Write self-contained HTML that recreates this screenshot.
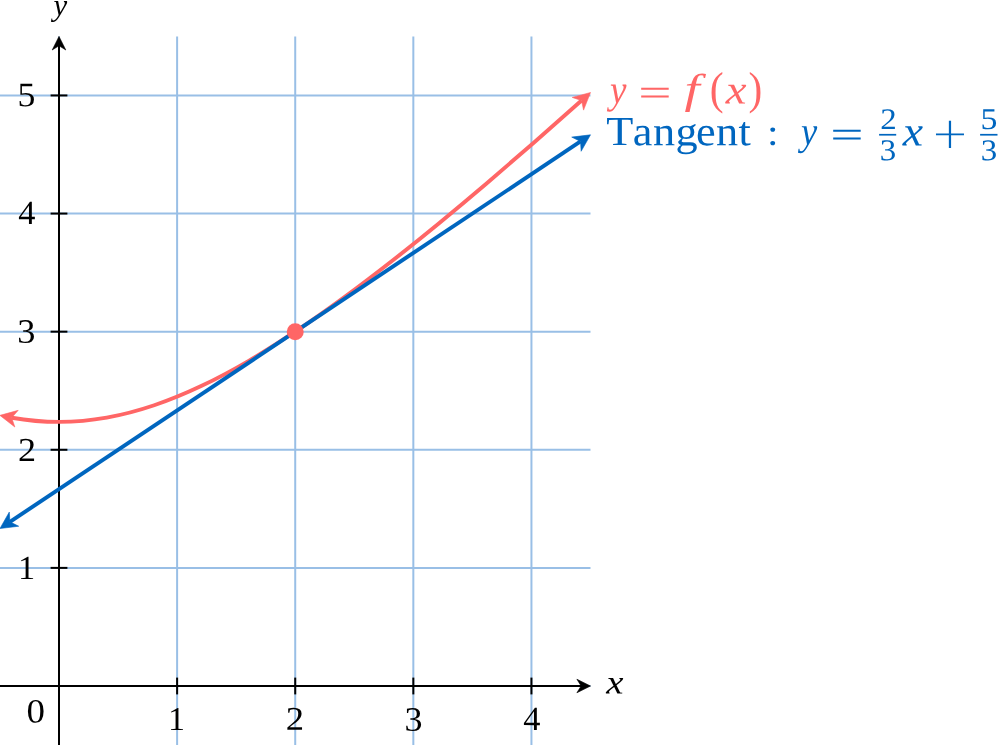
<!DOCTYPE html>
<html><head><meta charset="utf-8"><style>
html,body{margin:0;padding:0;background:#fff;overflow:hidden;}
svg{display:block;will-change:transform;}
text{font-family:"Liberation Serif",serif;font-kerning:none;text-rendering:geometricPrecision;}
</style></head><body>
<svg width="998" height="746" viewBox="0 0 998 746">
<line x1="59.00" y1="36.39" x2="59.00" y2="745.05" stroke="#99bfe6" stroke-width="2.0"/>
<line x1="177.11" y1="36.39" x2="177.11" y2="745.05" stroke="#99bfe6" stroke-width="2.0"/>
<line x1="295.22" y1="36.39" x2="295.22" y2="745.05" stroke="#99bfe6" stroke-width="2.0"/>
<line x1="413.33" y1="36.39" x2="413.33" y2="745.05" stroke="#99bfe6" stroke-width="2.0"/>
<line x1="531.44" y1="36.39" x2="531.44" y2="745.05" stroke="#99bfe6" stroke-width="2.0"/>
<line x1="-0.05" y1="686.00" x2="590.50" y2="686.00" stroke="#99bfe6" stroke-width="2.0"/>
<line x1="-0.05" y1="567.89" x2="590.50" y2="567.89" stroke="#99bfe6" stroke-width="2.0"/>
<line x1="-0.05" y1="449.78" x2="590.50" y2="449.78" stroke="#99bfe6" stroke-width="2.0"/>
<line x1="-0.05" y1="331.67" x2="590.50" y2="331.67" stroke="#99bfe6" stroke-width="2.0"/>
<line x1="-0.05" y1="213.56" x2="590.50" y2="213.56" stroke="#99bfe6" stroke-width="2.0"/>
<line x1="-0.05" y1="95.45" x2="590.50" y2="95.45" stroke="#99bfe6" stroke-width="2.0"/>
<line x1="-0.05" y1="686.00" x2="582.50" y2="686.00" stroke="#000" stroke-width="2.0"/>
<line x1="59.00" y1="745.05" x2="59.00" y2="44.39" stroke="#000" stroke-width="2.0"/>
<polygon points="590.50,686.00 576.89,692.80 581.10,686.00 576.89,679.20" fill="#000" stroke="#000" stroke-width="0.6" stroke-linejoin="round"/>
<polygon points="59.00,36.39 65.80,49.99 59.00,45.79 52.20,49.99" fill="#000" stroke="#000" stroke-width="0.6" stroke-linejoin="round"/>
<line x1="177.11" y1="677.60" x2="177.11" y2="694.40" stroke="#000" stroke-width="2.0"/>
<line x1="295.22" y1="677.60" x2="295.22" y2="694.40" stroke="#000" stroke-width="2.0"/>
<line x1="413.33" y1="677.60" x2="413.33" y2="694.40" stroke="#000" stroke-width="2.0"/>
<line x1="531.44" y1="677.60" x2="531.44" y2="694.40" stroke="#000" stroke-width="2.0"/>
<line x1="50.60" y1="567.89" x2="67.40" y2="567.89" stroke="#000" stroke-width="2.0"/>
<line x1="50.60" y1="449.78" x2="67.40" y2="449.78" stroke="#000" stroke-width="2.0"/>
<line x1="50.60" y1="331.67" x2="67.40" y2="331.67" stroke="#000" stroke-width="2.0"/>
<line x1="50.60" y1="213.56" x2="67.40" y2="213.56" stroke="#000" stroke-width="2.0"/>
<line x1="50.60" y1="95.45" x2="67.40" y2="95.45" stroke="#000" stroke-width="2.0"/>
<path d="M11.76,417.71 C27.58,420.49 43.41,421.91 59.24,421.90 C75.06,421.88 90.89,420.44 106.72,417.62 C122.54,414.81 138.37,410.63 154.20,405.26 C170.02,399.90 185.85,393.35 201.68,385.82 C217.50,378.30 233.33,369.81 249.16,360.56 C264.98,351.31 280.81,341.31 296.64,330.72 C312.46,320.14 328.29,308.97 344.12,297.36 C359.94,285.75 375.77,273.69 391.60,261.30 C407.42,248.90 423.25,236.17 439.08,223.17 C454.90,210.18 470.73,196.92 486.56,183.45 C502.38,169.99 518.21,156.32 534.04,142.48 C549.87,128.65 565.69,114.65 581.52,100.53" fill="none" stroke="#ff6666" stroke-width="3.9"/>
<polygon points="590.50,92.50 583.56,110.11 581.55,100.50 572.23,97.43" fill="#ff6666" stroke="#ff6666" stroke-width="0.6" stroke-linejoin="round"/>
<polygon points="-0.05,415.38 18.19,410.36 11.71,417.74 14.84,427.03" fill="#ff6666" stroke="#ff6666" stroke-width="0.6" stroke-linejoin="round"/>
<line x1="9.93" y1="521.86" x2="580.51" y2="141.48" stroke="#0066bf" stroke-width="3.9"/>
<polygon points="590.50,134.82 581.15,151.27 580.51,141.48 571.72,137.12" fill="#0066bf" stroke="#0066bf" stroke-width="0.6" stroke-linejoin="round"/>
<polygon points="-0.05,528.52 9.29,512.07 9.93,521.86 18.72,526.22" fill="#0066bf" stroke="#0066bf" stroke-width="0.6" stroke-linejoin="round"/>
<circle cx="295.22" cy="331.67" r="8.5" fill="#ff6666"/>
<text x="0" y="0" font-size="100" fill="#000" transform="matrix(0.34086 0.0005 0 0.33325 168.00 730.00)">1</text>
<text x="0" y="0" font-size="100" fill="#000" transform="matrix(0.36669 0.0005 0 0.33076 285.79 729.80)">2</text>
<text x="0" y="0" font-size="100" fill="#000" transform="matrix(0.36070 0.0005 0 0.34381 404.57 730.66)">3</text>
<text x="0" y="0" font-size="100" fill="#000" transform="matrix(0.34420 0.0005 0 0.34032 523.23 729.90)">4</text>
<text x="0" y="0" font-size="100" fill="#000" transform="matrix(0.37043 0.0005 0 0.33936 26.39 722.47)">0</text>
<text x="0" y="0" font-size="100" fill="#000" transform="matrix(0.34370 0.0005 0 0.33628 17.98 579.00)">1</text>
<text x="0" y="0" font-size="100" fill="#000" transform="matrix(0.36171 0.0005 0 0.33529 17.91 461.00)">2</text>
<text x="0" y="0" font-size="100" fill="#000" transform="matrix(0.36312 0.0005 0 0.34381 17.36 342.66)">3</text>
<text x="0" y="0" font-size="100" fill="#000" transform="matrix(0.34420 0.0005 0 0.33728 18.13 223.90)">4</text>
<text x="0" y="0" font-size="100" fill="#000" transform="matrix(0.35747 0.0005 0 0.34610 17.42 106.26)">5</text>
<text x="0" y="0" font-size="100" font-style="italic" fill="#000" transform="matrix(0.38776 0.0005 0 0.33770 606.27 693.50)">x</text>
<text x="0" y="0" font-size="100" font-style="italic" fill="#000" transform="matrix(0.30881 0.0005 0 0.30972 53.38 15.22)">y</text>
<text x="0" y="0" font-size="100" font-style="italic" fill="#ff6666" transform="matrix(0.37133 0.0005 0 0.40160 609.90 102.93)">y</text>
<text x="0" y="0" font-size="100" fill="#ff6666" transform="matrix(0.59098 0.0005 0 0.38800 638.36 105.43)">=</text>
<text x="0" y="0" font-size="100" font-style="italic" fill="#ff6666" transform="matrix(0.54736 0.0005 0 0.41876 684.49 102.98)">f</text>
<text x="0" y="0" font-size="100" fill="#ff6666" transform="matrix(0.41661 0.0005 0 0.45658 709.77 103.68)">(</text>
<text x="0" y="0" font-size="100" font-style="italic" fill="#ff6666" transform="matrix(0.46799 0.0005 0 0.40960 725.77 103.50)">x</text>
<text x="0" y="0" font-size="100" fill="#ff6666" transform="matrix(0.41271 0.0005 0 0.45658 748.57 103.68)">)</text>
<text x="0.00 60.09 105.52 156.07 202.70 247.84 298.33" y="0" font-size="100" fill="#0066bf" transform="matrix(0.44336 0.0005 0 0.41388 606.20 145.10)">Tangent</text>
<text x="0" y="0" font-size="100" fill="#0066bf" transform="matrix(0.41640 0.0005 0 0.37029 766.91 144.68)">:</text>
<text x="0" y="0" font-size="100" font-style="italic" fill="#0066bf" transform="matrix(0.36565 0.0005 0 0.40012 800.95 144.56)">y</text>
<text x="0" y="0" font-size="100" fill="#0066bf" transform="matrix(0.59098 0.0005 0 0.38800 830.36 147.43)">=</text>
<text x="0" y="0" font-size="100" fill="#0066bf" transform="matrix(0.32928 0.0005 0 0.29904 880.35 129.10)">2</text>
<text x="0" y="0" font-size="100" fill="#0066bf" transform="matrix(0.32923 0.0005 0 0.30363 879.82 160.30)">3</text>
<text x="0" y="0" font-size="100" font-style="italic" fill="#0066bf" transform="matrix(0.45684 0.0005 0 0.41831 902.66 145.50)">x</text>
<text x="0" y="0" font-size="100" style="font-family:'DejaVu Sans',sans-serif;font-weight:200" fill="#0066bf" transform="matrix(0.44730 0.0005 0 0.43544 931.26 148.10)">+</text>
<text x="0" y="0" font-size="100" fill="#0066bf" transform="matrix(0.33761 0.0005 0 0.30246 980.44 129.10)">5</text>
<text x="0" y="0" font-size="100" fill="#0066bf" transform="matrix(0.32923 0.0005 0 0.30065 980.82 160.31)">3</text>
<rect x="879.1" y="133.9" width="17.1" height="1.7" fill="#0066bf"/>
<rect x="980.1" y="133.9" width="17.4" height="1.7" fill="#0066bf"/>
</svg>
</body></html>
